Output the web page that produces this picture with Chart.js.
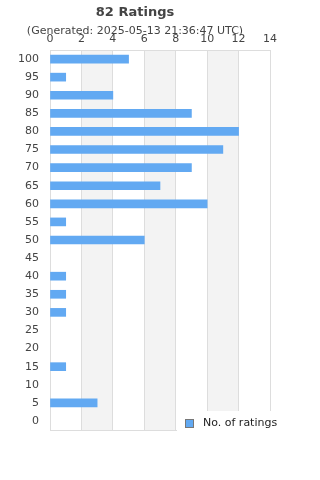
<!DOCTYPE html>
<html>
<head>
<meta charset="utf-8">
<script src="https://cdn.jsdelivr.net/npm/chart.js@4/dist/chart.umd.min.js"></script>
<style>
html,body{margin:0;padding:0;background:#fff;}
#wrap{width:320px;height:480px;position:relative;}
</style>
</head>
<body>
<div id="wrap"><canvas id="c" width="320" height="480"></canvas></div>
<script>
const categories = ['100','95','90','85','80','75','70','65','60','55','50','45','40','35','30','25','20','15','10','5','0'];
const ratingCounts = [5,1,4,9,12,11,9,7,10,1,6,0,1,1,1,0,0,1,0,3,0];
const xTickValues = [0,2,4,6,8,10,12,14];
const seriesLabel = 'No. of ratings';
const titleText = '82 Ratings';
const subtitleText = '(Generated: 2025-05-13 21:36:47 UTC)';
const shadedBands = [[2,4],[6,8],[10,12]];

const barColor = '#62a9f2';

const decor = {
  id: 'decor',
  beforeDraw(chart) {
    const {ctx, chartArea: a, scales: {x}} = chart;
    ctx.save();
    ctx.fillStyle = '#f3f3f3';
    shadedBands.forEach(([s, e]) => {
      const x0 = x.getPixelForValue(s), x1 = x.getPixelForValue(e);
      ctx.fillRect(x0, a.top, x1 - x0, a.bottom - a.top);
    });
    ctx.restore();
  },
  beforeDatasetsDraw(chart) {
    const {ctx, chartArea: a} = chart;
    ctx.save();
    ctx.strokeStyle = '#dddddd';
    ctx.lineWidth = 1;
    ctx.beginPath();
    ctx.moveTo(a.left, Math.round(a.bottom) + 0.5);
    ctx.lineTo(a.right, Math.round(a.bottom) + 0.5);
    ctx.stroke();
    ctx.restore();
  },
  afterDraw(chart) {
    const {ctx} = chart;
    ctx.save();
    ctx.fillStyle = '#ffffff';
    ctx.fillRect(177, 411, 143, 30);
    ctx.fillStyle = barColor;
    ctx.fillRect(185, 419, 8, 8);
    ctx.strokeStyle = '#777';
    ctx.lineWidth = 1;
    ctx.strokeRect(185.5, 419.5, 8, 8);
    ctx.fillStyle = '#222';
    ctx.font = '11px "DejaVu Sans"';
    ctx.textBaseline = 'middle';
    ctx.textAlign = 'left';
    ctx.fillText(chart.data.datasets[0].label, 203, 423.5);
    ctx.restore();
  }
};

Chart.defaults.font.family = '"DejaVu Sans", sans-serif';
Chart.defaults.color = '#444';

new Chart(document.getElementById('c'), {
  type: 'bar',
  data: {
    labels: categories,
    datasets: [{
      label: seriesLabel,
      data: ratingCounts,
      backgroundColor: (c) => (c.raw === 0 ? 'rgba(0,0,0,0)' : barColor),
      borderWidth: 0,
      barThickness: 8
    }]
  },
  options: {
    indexAxis: 'y',
    responsive: false,
    animation: false,
    devicePixelRatio: 1,
    layout: {padding: {left: 0, right: 50, top: 0, bottom: 50}},
    plugins: {
      legend: {display: false},
      tooltip: {enabled: false},
      title: {
        display: true,
        text: titleText,
        color: '#444',
        font: {size: 13, weight: 'bold'},
        padding: {top: 5, bottom: 2}
      },
      subtitle: {
        display: true,
        text: subtitleText,
        color: '#444',
        font: {size: 11},
        padding: {top: 2, bottom: -9}
      }
    },
    scales: {
      x: {
        position: 'top',
        min: 0,
        max: 14,
        afterBuildTicks(scale) { scale.ticks = xTickValues.map(v => ({value: v})); },
        ticks: {padding: 4, color: '#444', font: {size: 11}},
        grid: {color: '#dddddd', drawTicks: false},
        border: {display: true, color: '#dddddd'}
      },
      y: {
        afterFit(scale) { scale.width = 50; },
        ticks: {padding: 11, color: '#444', font: {size: 11}},
        grid: {display: false, drawTicks: false},
        border: {display: true, color: '#dddddd'}
      }
    }
  },
  plugins: [decor]
});
</script>
</body>
</html>
